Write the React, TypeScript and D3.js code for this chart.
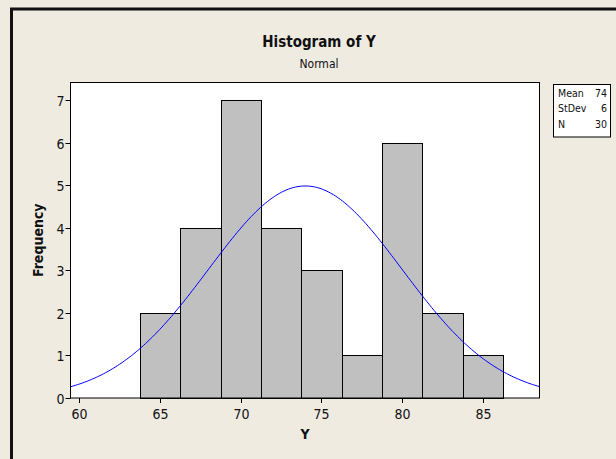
import React from 'react';
import * as d3 from 'd3';

// histogram bins (lower edges) and counts
const binStarts = [63.75, 66.25, 68.75, 71.25, 73.75, 76.25, 78.75, 81.25, 83.75];
const binWidth = 2.5;
const counts = [2, 4, 7, 4, 3, 1, 6, 2, 1];
const xTicks = [60, 65, 70, 75, 80, 85];
const yTicks = [0, 1, 2, 3, 4, 5, 6, 7];
const statLabels = ['Mean', 'StDev', 'N'];
const statValues = ['74', '6', '30'];
const mean = 74;
const sd = 6;
const n = 30;

const W = 616;
const H = 459;
const font = '"DejaVu Sans Condensed", "DejaVu Sans", sans-serif';

export default function App() {
  const left = 70.5, right = 539.5, top = 82.5, bottom = 398;

  const x = d3.scaleLinear().domain([59.455, 88.51]).range([left, right]);
  const y = d3.scaleLinear().domain([0, 7.42]).range([bottom, top]);

  // fitted normal curve, scaled to counts
  const scale = n * binWidth;
  const pdf = (v: number) =>
    (scale / (sd * Math.sqrt(2 * Math.PI))) * Math.exp(-0.5 * ((v - mean) / sd) ** 2);
  const [x0, x1] = x.domain();
  const pts = d3.range(0, 201).map(i => x0 + ((x1 - x0) * i) / 200);
  const line = d3.line<number>().x(d => x(d)).y(d => y(pdf(d)));

  return (
    <svg width={W} height={H} style={{ position: 'absolute', left: 0, top: 0 }} fontFamily={font}>
      <rect x={0} y={0} width={W} height={H} fill="#efebe1" />
      <rect x={11.5} y={9} width={W + 40} height={H + 40} fill="none" stroke="#111" strokeWidth={3} />

      <text x={319} y={46.5} textAnchor="middle" fontSize={15} fontWeight="bold" fill="#111">Histogram of Y</text>
      <text x={319} y={67.5} textAnchor="middle" fontSize={12} fill="#111">Normal</text>

      <rect x={left} y={top} width={right - left} height={bottom - top} fill="#fff" />

      {binStarts.map((b, i) => (
        <rect key={i}
          x={Math.round(x(b)) + 0.5}
          y={Math.round(y(counts[i])) + 0.5}
          width={Math.round(x(b + binWidth)) - Math.round(x(b))}
          height={Math.round(y(0)) - Math.round(y(counts[i]))}
          fill="#c0c0c0" stroke="#000" strokeWidth={1} />
      ))}

      <clipPath id="plotClip">
        <rect x={left} y={top} width={right - left} height={bottom - top} />
      </clipPath>
      <path d={line(pts) ?? ''} fill="none" stroke="#0000ff" strokeWidth={1} clipPath="url(#plotClip)" />

      <rect x={left} y={top} width={right - left} height={bottom - top} fill="none" stroke="#000" strokeWidth={1} />

      {yTicks.map(t => (
        <g key={t} transform={`translate(0,${Math.round(y(t)) + 0.5})`}>
          <line x1={left - 5} x2={left} stroke="#000" />
          <text x={left - 6} dy="0.36em" textAnchor="end" fontSize={14} fill="#111">{t}</text>
        </g>
      ))}
      {xTicks.map(t => (
        <g key={t} transform={`translate(${Math.round(x(t)) + 0.5},0)`}>
          <line y1={bottom} y2={bottom + 5} stroke="#000" />
          <text y={bottom + 21} textAnchor="middle" fontSize={14} fill="#111">{t}</text>
        </g>
      ))}

      <text x={305} y={439} textAnchor="middle" fontSize={14} fontWeight="bold" fill="#111">Y</text>
      <text transform={`translate(43,${(top + bottom) / 2}) rotate(-90)`} textAnchor="middle"
        fontSize={14} fontWeight="bold" fill="#111">Frequency</text>

      <rect x={553.5} y={84.5} width={57} height={52.5} fill="#fff" stroke="#000" strokeWidth={1} />
      {statLabels.map((s, i) => (
        <g key={s}>
          <text x={558} y={96.5 + i * 15.5} fontSize={10.5} fill="#111">{s}</text>
          <text x={607} y={96.5 + i * 15.5} fontSize={10.5} textAnchor="end" fill="#111">{statValues[i]}</text>
        </g>
      ))}
    </svg>
  );
}
